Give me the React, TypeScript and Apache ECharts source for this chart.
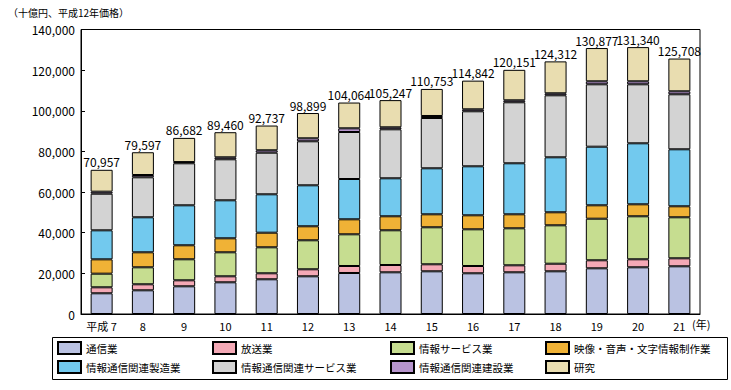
import React, { useEffect, useRef } from "react";
import * as echarts from "echarts";

const categories = ["平成 7", "8", "9", "10", "11", "12", "13", "14", "15", "16", "17", "18", "19", "20", "21"];
const totals = [70957, 79597, 86682, 89460, 92737, 98899, 104064, 105247, 110753, 114842, 120151, 124312, 130877, 131340, 125708];
const tsushin = [10190, 11660, 13630, 15600, 17080, 18550, 20180, 20520, 21010, 20030, 20520, 21010, 22490, 22980, 23470];
const hoso = [2950, 2960, 2950, 2950, 2950, 3450, 3440, 3590, 3450, 3590, 3440, 3740, 3940, 3940, 3940];
const infoSvc = [6700, 8360, 10340, 11810, 12790, 14270, 15600, 17080, 18210, 18060, 18210, 18900, 20470, 21160, 20180];
const eizo = [7060, 7380, 6890, 6890, 7190, 6890, 7380, 6890, 6390, 6890, 6890, 6400, 6590, 5900, 5410];
const seizo = [14280, 17230, 19680, 18700, 18890, 20170, 19830, 18700, 22640, 24110, 25100, 27060, 28840, 30020, 28050];
const kanrenSvc = [18020, 19680, 20670, 20180, 20480, 21660, 23130, 24110, 24750, 27070, 30020, 30510, 30700, 29030, 27070];
const kensetsu = [990, 1130, 600, 980, 1180, 1470, 1820, 980, 990, 980, 980, 990, 1480, 1480, 1470];
const kenkyu = [10770, 11200, 11900, 12350, 12180, 12440, 12680, 13380, 13310, 14110, 14990, 15700, 16370, 16830, 16120];

const seriesNames = ["通信業", "放送業", "情報サービス業", "映像・音声・文字情報制作業", "情報通信関連製造業", "情報通信関連サービス業", "情報通信関連建設業", "研究"];
const seriesData = [tsushin, hoso, infoSvc, eizo, seizo, kanrenSvc, kensetsu, kenkyu];
const colors = ["#BAC2E2", "#F4A9B6", "#C6DD90", "#F0B236", "#72C9EE", "#D3D3D3", "#B694CC", "#E9DDB0"];

const FONT = "'Noto Sans CJK JP', 'Noto Sans', sans-serif";

export default function App() {
  const ref = useRef<HTMLDivElement>(null);
  useEffect(() => {
    if (!ref.current) return;
    document.body.style.margin = "0";
    const chart = echarts.init(ref.current, null, { renderer: "svg" });
    const fmt = (v: number) => v.toLocaleString("en-US");
    const series: any[] = seriesNames.map((name, i) => ({
      name,
      type: "bar",
      stack: "total",
      barWidth: 22,
      data: seriesData[i],
      itemStyle: { color: colors[i], borderColor: "#000", borderWidth: 1 },
      label:
        i === seriesNames.length - 1
          ? {
              show: true,
              position: "top",
              distance: 2,
              color: "#000",
              fontSize: 12,
              fontFamily: FONT,
              formatter: (p: any) => fmt(totals[p.dataIndex]),
            }
          : { show: false },
    }));
    const cols = [[0, 4], [1, 5], [2, 6], [3, 7]];
    const lefts = [57, 212, 390, 545];
    const legends = cols.map((c, k) => ({
      orient: "vertical",
      left: lefts[k],
      top: 341,
      padding: 0,
      icon: "rect",
      itemWidth: 23,
      itemHeight: 12,
      itemGap: 5,
      textStyle: { fontSize: 10.5, lineHeight: 12, color: "#000", fontFamily: FONT },
      data: c.map((i) => seriesNames[i]),
    }));
    chart.setOption({
      animation: false,
      textStyle: { fontFamily: FONT },
      grid: { left: 81, right: 31, top: 29.5, bottom: 76, show: true, borderColor: "#000", borderWidth: 1, backgroundColor: "transparent" },
      legend: legends,
      xAxis: {
        type: "category",
        data: categories,
        axisLine: { lineStyle: { color: "#000" } },
        axisTick: { inside: true, length: 5, lineStyle: { color: "#000" } },
        axisLabel: { color: "#000", fontSize: 11, margin: 6, interval: 0, fontFamily: FONT },
      },
      yAxis: {
        type: "value",
        min: 0,
        max: 140000,
        interval: 20000,
        axisLine: { show: true, lineStyle: { color: "#000" } },
        axisTick: { show: true, inside: true, length: 4, lineStyle: { color: "#000" } },
        splitLine: { show: false },
        axisLabel: { color: "#000", fontSize: 12, margin: 6, fontFamily: FONT, formatter: (v: number) => fmt(v) },
      },
      graphic: [
        { type: "text", left: 8, top: 7, style: { text: "（十億円、平成12年価格）", fontSize: 10, fill: "#000", fontFamily: FONT } },
        { type: "text", left: 692, top: 318, style: { text: "(年)", fontSize: 11, fill: "#000", fontFamily: FONT } },
        { type: "rect", shape: { x: 52.5, y: 337.5, width: 675, height: 42 }, style: { fill: "none", stroke: "#000", lineWidth: 1 } },
      ],
      series,
    });
    return () => chart.dispose();
  }, []);
  return <div ref={ref} style={{ width: 731, height: 390 }} />;
}
